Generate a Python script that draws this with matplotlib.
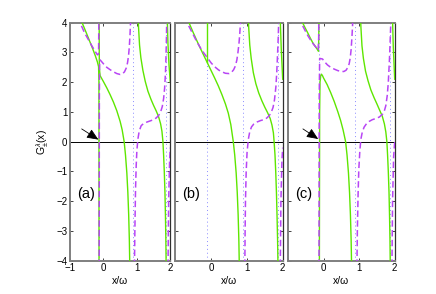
import matplotlib
matplotlib.use("Agg")
import matplotlib.pyplot as plt

plt.rcParams['font.family'] = ['Liberation Sans', 'DejaVu Sans']
plt.rcParams['mathtext.fontset'] = 'custom'
plt.rcParams['mathtext.rm'] = 'Liberation Sans'
plt.rcParams['mathtext.it'] = 'Liberation Sans:italic'

# ---------------- data ----------------
panel_labels = ['(a)', '(b)', '(c)']
x_ticks = [-1, 0, 1, 2]
y_ticks = [-4, -3, -2, -1, 0, 1, 2, 3, 4]
dotted_x = [-0.12, 0.88, 1.88]

# panel (a)
a_green_1 = [(-0.72, 4.2), (-0.62, 3.95), (-0.52, 3.68), (-0.42, 3.40), (-0.32, 3.12),
             (-0.24, 2.88), (-0.18, 2.68), (-0.145, 2.52), (-0.135, 2.0), (-0.132, -4.5)]
a_green_2 = [(-0.128, 4.5), (-0.125, 3.0), (-0.12, 2.45), (-0.10, 2.22), (0.00, 2.02),
             (0.10, 1.81), (0.20, 1.58), (0.30, 1.33), (0.40, 1.04), (0.50, 0.68),
             (0.56, 0.40), (0.62, 0.0), (0.66, -0.45), (0.70, -1.05), (0.73, -1.7),
             (0.755, -2.45), (0.775, -3.3), (0.79, -4.3)]
a_green_3 = [(1.03, 4.5), (1.05, 3.85), (1.08, 3.25), (1.12, 2.82), (1.18, 2.40),
             (1.25, 2.03), (1.33, 1.70), (1.42, 1.43), (1.50, 1.22), (1.58, 1.03),
             (1.65, 0.84), (1.71, 0.60), (1.75, 0.35), (1.78, 0.0), (1.80, -0.45),
             (1.82, -1.0), (1.84, -1.7), (1.855, -2.5), (1.867, -3.3), (1.877, -4.3)]
a_green_4 = [(1.90, 4.5), (1.93, 3.3), (1.96, 2.6), (2.0, 2.0)]
a_purple_1 = [(-0.76, 4.2), (-0.66, 3.90), (-0.56, 3.65), (-0.45, 3.43), (-0.35, 3.23),
              (-0.25, 3.04), (-0.18, 2.92), (-0.145, 2.95), (-0.134, 4.5)]
a_purple_2 = [(-0.128, -4.5), (-0.122, 1.5), (-0.115, 2.6), (-0.10, 2.75), (0.00, 2.62),
              (0.10, 2.50), (0.20, 2.42), (0.30, 2.35), (0.40, 2.29), (0.50, 2.26),
              (0.57, 2.28), (0.63, 2.35), (0.68, 2.47), (0.72, 2.65), (0.75, 2.88),
              (0.775, 3.2), (0.795, 3.6), (0.81, 4.0), (0.82, 4.5)]
a_purple_3 = [(0.925, -4.5), (0.94, -3.0), (0.96, -1.6), (0.98, -0.8), (1.00, -0.3),
              (1.03, 0.08), (1.07, 0.36), (1.13, 0.54), (1.20, 0.61), (1.30, 0.66),
              (1.40, 0.70), (1.50, 0.74), (1.58, 0.80), (1.65, 0.88), (1.71, 1.0),
              (1.76, 1.18), (1.80, 1.45), (1.83, 1.8), (1.855, 2.3), (1.87, 2.8),
              (1.885, 3.5), (1.895, 4.2), (1.90, 4.6)]
a_purple_4 = [(1.93, -4.5), (1.95, -2.0), (1.98, -0.6), (2.0, -0.2)]

# panel (b)
b_green_1 = [(-0.70, 4.25), (-0.60, 3.95), (-0.50, 3.67), (-0.40, 3.40), (-0.30, 3.14),
             (-0.20, 2.89), (-0.10, 2.64), (0.00, 2.39), (0.10, 2.14), (0.20, 1.88),
             (0.30, 1.59), (0.40, 1.27), (0.48, 0.96), (0.55, 0.58), (0.62, 0.0),
             (0.66, -0.45), (0.70, -1.05), (0.73, -1.7), (0.755, -2.45), (0.775, -3.3),
             (0.79, -4.3)]
b_green_2 = [(-0.113, 2.67), (-0.113, 4.5)]
b_green_3 = [(1.03, 4.5), (1.05, 3.85), (1.08, 3.25), (1.12, 2.80), (1.18, 2.32),
             (1.25, 1.95), (1.33, 1.64), (1.42, 1.37), (1.50, 1.16), (1.58, 0.97),
             (1.65, 0.78), (1.70, 0.56), (1.74, 0.30), (1.76, 0.0), (1.785, -0.45),
             (1.805, -1.0), (1.825, -1.7), (1.842, -2.5), (1.857, -3.3), (1.87, -4.3)]
b_green_4 = [(1.92, 4.5), (1.96, 3.11), (2.0, 2.1)]
b_purple_1 = [(-0.72, 4.2), (-0.62, 3.88), (-0.53, 3.67), (-0.39, 3.34), (-0.25, 3.06),
              (-0.11, 2.83), (0.00, 2.65), (0.10, 2.52), (0.21, 2.41), (0.30, 2.35),
              (0.40, 2.30), (0.50, 2.29), (0.57, 2.33), (0.63, 2.42), (0.68, 2.55),
              (0.72, 2.75), (0.75, 3.0), (0.78, 3.32), (0.80, 3.62), (0.82, 4.0),
              (0.83, 4.5)]
b_purple_3 = [(0.94, -4.5), (0.95, -3.0), (0.96, -2.0), (0.98, -1.0), (1.005, -0.35),
              (1.04, 0.08), (1.08, 0.34), (1.13, 0.50), (1.19, 0.59), (1.28, 0.66),
              (1.38, 0.71), (1.47, 0.74), (1.55, 0.79), (1.62, 0.87), (1.68, 0.99),
              (1.73, 1.15), (1.77, 1.40), (1.81, 1.85), (1.835, 2.35), (1.855, 2.9),
              (1.875, 3.5), (1.89, 4.1), (1.90, 4.6)]
b_purple_4 = [(1.93, -4.5), (1.95, -2.0), (1.98, -0.6), (2.0, -0.2)]

# panel (c)
c_green_1 = [(-0.64, 4.2), (-0.59, 4.0), (-0.52, 3.83), (-0.45, 3.67), (-0.38, 3.50),
             (-0.31, 3.34), (-0.25, 3.23), (-0.19, 3.13), (-0.145, 3.04),
             (-0.134, 3.5), (-0.13, 4.5)]
c_green_2 = [(-0.118, -4.5), (-0.115, -2.0), (-0.11, 1.0), (-0.10, 2.0), (-0.08, 2.22),
             (-0.06, 2.27), (-0.03, 2.22), (0.00, 2.14), (0.10, 1.92), (0.20, 1.65),
             (0.30, 1.35), (0.40, 1.01), (0.48, 0.71), (0.55, 0.39), (0.62, 0.0),
             (0.66, -0.45), (0.70, -1.05), (0.73, -1.7), (0.755, -2.45), (0.775, -3.3),
             (0.79, -4.3)]
c_green_3 = [(1.03, 4.5), (1.05, 3.85), (1.08, 3.22), (1.12, 2.80), (1.18, 2.37),
             (1.25, 2.05), (1.33, 1.74), (1.42, 1.48), (1.50, 1.27), (1.58, 1.05),
             (1.65, 0.86), (1.71, 0.60), (1.75, 0.33), (1.78, 0.0), (1.80, -0.45),
             (1.82, -1.0), (1.84, -1.7), (1.855, -2.5), (1.867, -3.3), (1.877, -4.3)]
c_green_4 = [(1.93, 4.5), (1.96, 3.2), (2.0, 2.1)]
c_purple_1 = [(-0.68, 4.2), (-0.63, 4.0), (-0.56, 3.83), (-0.49, 3.67), (-0.42, 3.52),
              (-0.35, 3.39), (-0.28, 3.27), (-0.21, 3.17), (-0.15, 3.07),
              (-0.137, 3.5), (-0.133, 4.5)]
c_purple_2 = [(-0.128, -4.5), (-0.122, 1.5), (-0.11, 2.8), (-0.03, 2.78), (0.04, 2.67),
              (0.11, 2.58), (0.20, 2.50), (0.30, 2.44), (0.40, 2.39), (0.49, 2.36),
              (0.57, 2.36), (0.63, 2.40), (0.68, 2.49), (0.72, 2.62), (0.75, 2.82),
              (0.775, 3.1), (0.80, 3.56), (0.815, 3.9), (0.825, 4.5)]
c_purple_3 = [(0.935, -4.5), (0.95, -3.0), (0.97, -1.8), (0.99, -0.95), (1.02, -0.3),
              (1.05, 0.09), (1.09, 0.33), (1.14, 0.49), (1.21, 0.61), (1.28, 0.68),
              (1.37, 0.74), (1.47, 0.78), (1.57, 0.83), (1.66, 0.93), (1.71, 1.04),
              (1.75, 1.21), (1.79, 1.55), (1.82, 1.99), (1.85, 2.7), (1.87, 3.3),
              (1.89, 4.0), (1.90, 4.6)]
c_purple_4 = [(1.92, -4.5), (1.94, -2.0), (1.97, -0.5), (2.0, 0.0)]

green_sets = [[a_green_1, a_green_2, a_green_3, a_green_4],
              [b_green_1, b_green_2, b_green_3, b_green_4],
              [c_green_1, c_green_2, c_green_3, c_green_4]]
purple_sets = [[a_purple_1, a_purple_2, a_purple_3, a_purple_4],
               [b_purple_1, b_purple_3, b_purple_4],
               [c_purple_1, c_purple_2, c_purple_3, c_purple_4]]
# arrows: (tail, tip) in data coords, None if absent
arrows = [((-0.65, 0.43), (-0.15, 0.07)), None, ((-0.58, 0.43), (-0.15, 0.09))]

# ---------------- styles / layout ----------------
GREEN = '#5ee600'
PURPLE = '#b845f5'
BLUE = '#8a8aff'
FRAME = '#7f7f7f'
W, H = 436, 294
lefts = [70, 175.3, 288]
widths = [100.3, 107.4, 106.7]
top_px, bot_px = 22.7, 260.7

fig = plt.figure(figsize=(W / 100, H / 100), dpi=100)
fs = 7

for i in range(3):
    ax = fig.add_axes([lefts[i] / W, 1 - bot_px / H, widths[i] / W, (bot_px - top_px) / H])
    ax.set_xlim(-1, 2)
    ax.set_ylim(-4, 4)
    for xv in dotted_x:
        ax.axvline(xv, color=BLUE, lw=0.7, ls=(0, (1, 3)), zorder=1)
    ax.axhline(0, color='black', lw=0.7, zorder=2)
    for br in green_sets[i]:
        ax.plot([p[0] for p in br], [p[1] for p in br], color=GREEN, lw=1.0, zorder=3)
    for br in purple_sets[i]:
        ax.plot([p[0] for p in br], [p[1] for p in br], color=PURPLE, lw=1.1,
                dashes=(4.2, 2.2), zorder=4)
    if arrows[i] is not None:
        tail, tip = arrows[i]
        ax.annotate('', xy=tip, xytext=tail,
                    arrowprops=dict(arrowstyle='-|>,head_length=0.7,head_width=0.3',
                                    color='black', lw=0.6, mutation_scale=10,
                                    shrinkA=0, shrinkB=0), zorder=5)
    ax.text(-0.8, -1.75, panel_labels[i], fontsize=10.5, ha='left', va='center')

    ax.set_xticks(x_ticks)
    ax.set_yticks(y_ticks)
    if i == 0:
        ax.set_xticklabels(['\u22121', '0', '1', '2'])
        ax.set_yticklabels([('\u2212%d' % -v) if v < 0 else str(v) for v in y_ticks])
    else:
        ax.set_xticklabels(['', '0', '1', '2'])
        ax.set_yticklabels([])
    ax.tick_params(direction='in', length=2.5, width=0.6, labelsize=fs,
                   top=True, right=True, pad=2, color='#222222')
    for side in ['left', 'top', 'bottom']:
        ax.spines[side].set_color(FRAME)
        ax.spines[side].set_linewidth(1.4)
    ax.spines['right'].set_color('#303030')
    ax.spines['right'].set_linewidth(0.9)
    ax.set_xlabel('x/\u03c9', fontsize=fs + 0.5, labelpad=2)
    if i == 0:
        ax.set_ylabel(r'$\mathrm{G}^{\lambda}_{\pm}(\mathrm{x})$', fontsize=fs + 0.5, labelpad=4)

fig.savefig('out.png', dpi=100)
